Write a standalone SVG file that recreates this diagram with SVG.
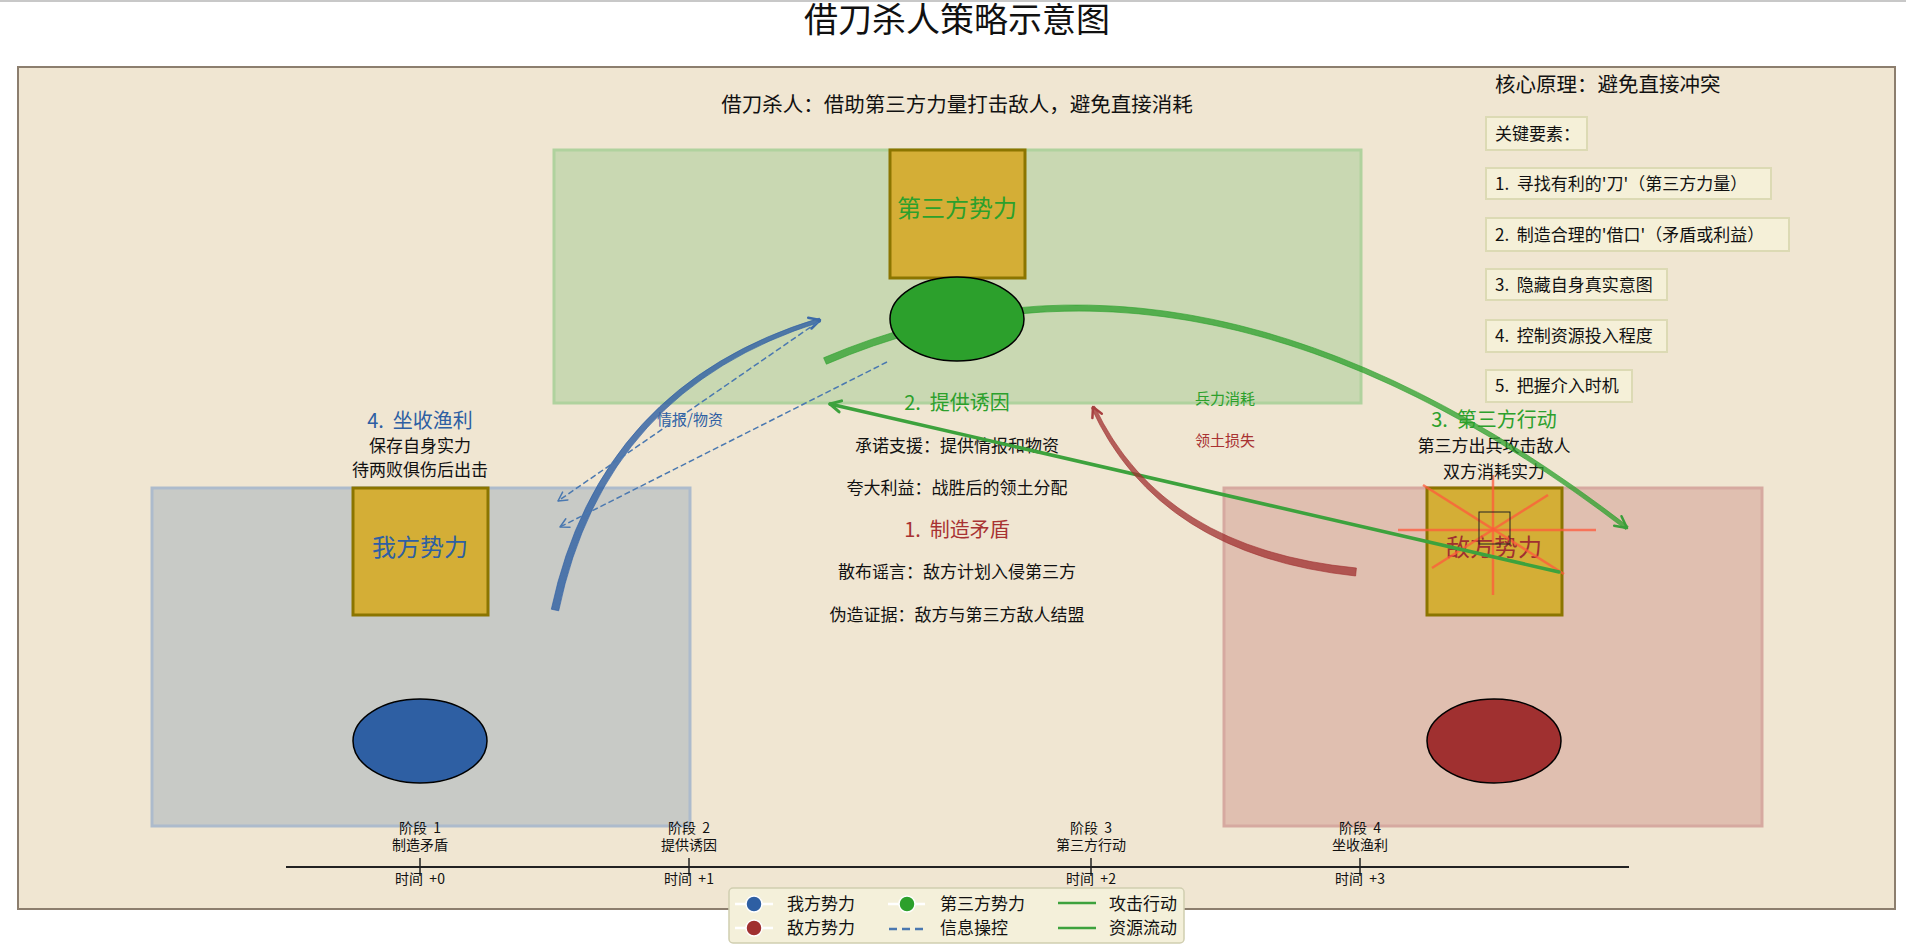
<svg xmlns="http://www.w3.org/2000/svg" width="1906" height="950" viewBox="0 0 1906 950">
<style>
text{font-family:"Noto Sans CJK SC","Noto Sans",sans-serif;white-space:pre;fill:#111}
.title{font-size:34px}
.h20{font-size:20px}
.sub{font-size:20.5px}
.t17{font-size:17px}
.t15{font-size:15px}
.t14{font-size:14px}
.box24{font-size:24px}
.mid{text-anchor:middle}
.gold{fill:#d4ae36;stroke:#8b7500;stroke-width:3}
.kbox{fill:#f5f0d8;stroke:#dcdab4;stroke-width:2}
.arm{fill:none;stroke-linecap:round;stroke-linejoin:round}
.xl{stroke:#ff5a3c;stroke-opacity:0.75;stroke-width:2.5}
</style>
<line x1="0" y1="1" x2="1906" y2="1" stroke="#c8c8c8" stroke-width="2"/>
<text class="title mid" x="957" y="32">借刀杀人策略示意图</text>
<rect x="18" y="67" width="1877" height="842" fill="#f0e6d2" stroke="#8c7e6e" stroke-width="2"/>
<text class="sub mid" x="957" y="112">借刀杀人：借助第三方力量打击敌人，避免直接消耗</text>
<g id="principles">
<text class="sub" x="1495" y="92">核心原理：避免直接冲突</text>
<rect class="kbox" x="1486" y="117" width="101" height="33"/>
<text class="t17" x="1495" y="140">关键要素：</text>
<rect class="kbox" x="1486" y="168" width="285" height="31"/>
<text class="t17" x="1495" y="190">1.  寻找有利的'刀'（第三方力量）</text>
<rect class="kbox" x="1486" y="218" width="303" height="33"/>
<text class="t17" x="1495" y="241">2.  制造合理的'借口'（矛盾或利益）</text>
<rect class="kbox" x="1486" y="269" width="181" height="31"/>
<text class="t17" x="1495" y="291">3.  隐藏自身真实意图</text>
<rect class="kbox" x="1486" y="320" width="181" height="32"/>
<text class="t17" x="1495" y="342">4.  控制资源投入程度</text>
<rect class="kbox" x="1486" y="370" width="146" height="32"/>
<text class="t17" x="1495" y="392">5.  把握介入时机</text>
</g>
<g id="node-self">
<rect x="152" y="488" width="538" height="338" fill="#c8cac6" stroke="#adbbcc" stroke-width="3"/>
<rect class="gold" x="353" y="488" width="135" height="127"/>
<text class="box24 mid" x="420" y="556" style="fill:#2e5fa3">我方势力</text>
</g>
<g id="node-third">
<rect x="554" y="150" width="807" height="253" fill="#c9d8b2" stroke="#b0d29e" stroke-width="3"/>
<rect class="gold" x="890" y="150" width="135" height="128"/>
<text class="box24 mid" x="957" y="217" style="fill:#2ca02c">第三方势力</text>
</g>
<g id="node-enemy">
<rect x="1224" y="488" width="538" height="338" fill="#e0bfb0" stroke="#d6a9a0" stroke-width="3"/>
<rect class="gold" x="1427" y="488" width="135" height="127"/>
<text class="box24 mid" x="1494" y="556" style="fill:#a03030">敌方势力</text>
<line class="xl" x1="1398" y1="530" x2="1596" y2="530"/>
<line class="xl" x1="1493" y1="475" x2="1493" y2="595"/>
<line class="xl" x1="1423" y1="485" x2="1564" y2="574"/>
<line class="xl" x1="1548" y1="495" x2="1432" y2="568"/>
<rect x="1479" y="512" width="31" height="32" fill="none" stroke="#222" stroke-width="1"/>
</g>
<g id="step-labels">
<text class="h20 mid" x="420" y="428" style="fill:#2e5fa3">4.  坐收渔利</text>
<text class="t17 mid" x="420" y="452">保存自身实力</text>
<text class="t17 mid" x="420" y="476">待两败俱伤后出击</text>
<text class="h20 mid" x="957" y="410" style="fill:#2ca02c">2.  提供诱因</text>
<text class="t17 mid" x="957" y="452">承诺支援：提供情报和物资</text>
<text class="t17 mid" x="957" y="494">夸大利益：战胜后的领土分配</text>
<text class="h20 mid" x="957" y="537" style="fill:#a83232">1.  制造矛盾</text>
<text class="t17 mid" x="957" y="578">散布谣言：敌方计划入侵第三方</text>
<text class="t17 mid" x="957" y="621">伪造证据：敌方与第三方敌人结盟</text>
<text class="h20 mid" x="1494" y="427" style="fill:#2ca02c">3.  第三方行动</text>
<text class="t17 mid" x="1494" y="452">第三方出兵攻击敌人</text>
<text class="t17 mid" x="1494" y="478">双方消耗实力</text>
<text class="t15 mid" x="1225" y="404" style="fill:#2ca02c">兵力消耗</text>
<text class="t15 mid" x="1225" y="446" style="fill:#a83232">领土损失</text>
<text class="t15 mid" x="690" y="425" style="fill:#2e5fa3">情报/物资</text>
</g>
<g id="connectors">
<path d="M 551.3 609.2 Q 599.5 384.7 819.4 318.1 L 820.6 321.9 Q 604.5 389.3 558.7 610.8 Z" fill="#2e5fa3" fill-opacity="0.8" stroke="#2e5fa3" stroke-opacity="0.8" stroke-width="0.8"/>
<polyline class="arm" points="808.2,317.7 820,320 811.5,328.5" stroke="#3c6aa8" stroke-width="2.5"/>
<line x1="818" y1="322" x2="558" y2="501" stroke="#4a78b0" stroke-width="1.5" stroke-dasharray="6 3"/>
<polyline class="arm" points="567.9,499.9 558,501 562.6,492.1" stroke="#4a78b0" stroke-width="1.5"/>
<line x1="887" y1="362" x2="560" y2="527" stroke="#4a78b0" stroke-width="1.5" stroke-dasharray="6 3"/>
<polyline class="arm" points="570,527.2 560,527 565.8,518.8" stroke="#4a78b0" stroke-width="1.5"/>
<path d="M 823.6 357.8 Q 1200.4 196.8 1628.2 526.4 L 1625.8 529.6 Q 1199.6 203.2 826.4 364.2 Z" fill="#2ca02c" fill-opacity="0.75" stroke="#2ca02c" stroke-opacity="0.75" stroke-width="0.8"/>
<polyline class="arm" points="1621.5,516.2 1627,528 1614.2,525.8" stroke="#3a9e3a" stroke-width="2.5"/>
<line x1="1559" y1="572" x2="830" y2="404" stroke="#3da23d" stroke-width="3.5" stroke-linecap="round"/>
<polyline class="arm" points="839.1,411.9 830,404 841.6,400.9" stroke="#3da23d" stroke-width="3"/>
<path d="M 1356.4 568.0 Q 1161.9 549.3 1094.6 406.2 L 1091.4 407.8 Q 1158.1 554.7 1355.6 576.0 Z" fill="#a03030" fill-opacity="0.75" stroke="#a03030" stroke-opacity="0.75" stroke-width="0.8"/>
<polyline class="arm" points="1092.4,418 1093,407 1101.8,413.7" stroke="#a84040" stroke-width="2.5"/>
</g>
<g id="token-self"><ellipse cx="420" cy="741" rx="67" ry="42" fill="#2e5fa3" stroke="#000" stroke-width="1.5"/></g>
<g id="token-third"><ellipse cx="957" cy="319" rx="67" ry="42" fill="#2ca02c" stroke="#000" stroke-width="1.5"/></g>
<g id="token-enemy"><ellipse cx="1494" cy="741" rx="67" ry="42" fill="#a03030" stroke="#000" stroke-width="1.5"/></g>
<g id="timeline">
<line x1="286" y1="867" x2="1629" y2="867" stroke="#222" stroke-width="2"/>
<g stroke="#222" stroke-width="1.5">
<line x1="420" y1="858" x2="420" y2="876"/>
<line x1="689" y1="858" x2="689" y2="876"/>
<line x1="1091" y1="858" x2="1091" y2="876"/>
<line x1="1360" y1="858" x2="1360" y2="876"/>
</g>
<text class="t14 mid" x="420" y="833">阶段  1</text>
<text class="t14 mid" x="420" y="850">制造矛盾</text>
<text class="t14 mid" x="420" y="884">时间  +0</text>
<text class="t14 mid" x="689" y="833">阶段  2</text>
<text class="t14 mid" x="689" y="850">提供诱因</text>
<text class="t14 mid" x="689" y="884">时间  +1</text>
<text class="t14 mid" x="1091" y="833">阶段  3</text>
<text class="t14 mid" x="1091" y="850">第三方行动</text>
<text class="t14 mid" x="1091" y="884">时间  +2</text>
<text class="t14 mid" x="1360" y="833">阶段  4</text>
<text class="t14 mid" x="1360" y="850">坐收渔利</text>
<text class="t14 mid" x="1360" y="884">时间  +3</text>
</g>
<g id="legend">
<rect x="729" y="888" width="455" height="55" rx="4" fill="#f4f0da" stroke="#d0ceb0" stroke-width="1.5"/>
<g stroke="#fff" stroke-width="2.5">
<line x1="735" y1="904" x2="773" y2="904"/>
<line x1="735" y1="928" x2="773" y2="928"/>
<line x1="888" y1="904" x2="925" y2="904"/>
</g>
<circle cx="754" cy="904" r="8" fill="#2e5fa3" stroke="#fff" stroke-width="1.5"/>
<circle cx="754" cy="928" r="8" fill="#a03030" stroke="#fff" stroke-width="1.5"/>
<circle cx="907" cy="904" r="8" fill="#2ca02c" stroke="#fff" stroke-width="1.5"/>
<line x1="889" y1="929" x2="924" y2="929" stroke="#4a78b0" stroke-width="2.5" stroke-dasharray="8 5"/>
<line x1="1058" y1="903" x2="1096" y2="903" stroke="#3da23d" stroke-width="2.5"/>
<line x1="1058" y1="928" x2="1096" y2="928" stroke="#3da23d" stroke-width="2.5"/>
<text class="t17" x="787" y="910">我方势力</text>
<text class="t17" x="787" y="934">敌方势力</text>
<text class="t17" x="940" y="910">第三方势力</text>
<text class="t17" x="940" y="934">信息操控</text>
<text class="t17" x="1109" y="910">攻击行动</text>
<text class="t17" x="1109" y="934">资源流动</text>
</g>
</svg>
